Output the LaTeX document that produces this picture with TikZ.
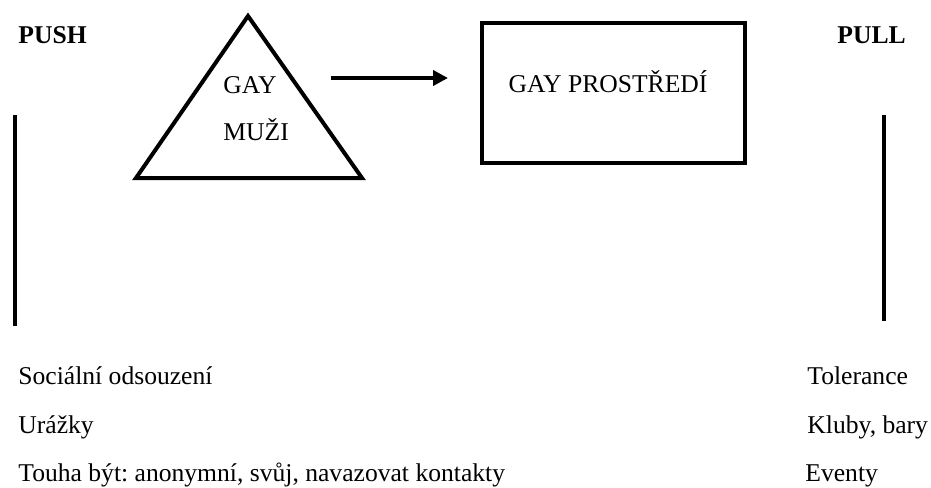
\documentclass[tikz,border=0pt]{standalone}
\usepackage{fontspec}
\setmainfont{Liberation Serif}
\usetikzlibrary{arrows.meta}
\frenchspacing
\tikzset{
  lbl/.style={inner sep=0pt, anchor=base west, font=\fontsize{12.8}{15}\selectfont},
  heading/.style={lbl, font=\fontsize{12.8}{15}\selectfont\bfseries},
  thickline/.style={line width=2pt},
  bar/.style={line width=1.7pt},
}
\begin{document}
\begin{tikzpicture}[x=0.5pt,y=-0.5pt]
\useasboundingbox (0,0) rectangle (931,487);

% headings
\node[heading] (push) at (18,43) {PUSH};
\node[heading] (pull) at (837,43) {PULL};

\draw[bar] (15,115) -- (15,326);
\draw[bar] (884,115) -- (884,321);

% triangle
\coordinate (apex) at (248,16);
\coordinate (baseleft) at (136,178);
\coordinate (baseright) at (362,178);
\draw[thickline] (apex) -- (baseright) -- (baseleft) -- cycle;
\node[lbl] (gay) at (223,93) {GAY};
\node[lbl] (muzi) at (223,140) {MUŽI};

\coordinate (arrowstart) at (331,78);
\coordinate (arrowend) at (448,78);
\draw[thickline,-{Triangle[length=7.5pt,width=7.5pt]}] (arrowstart) -- (arrowend);

% box
\draw[thickline] (482,23) rectangle (745,163);
\node[lbl, anchor=base] (prostredi) at (608,92) {GAY PROSTŘEDÍ};

% push factors
\node[lbl] (socialni) at (18,384) {Sociální odsouzení};
\node[lbl] (urazky) at (18,433) {Urážky};
\node[lbl] (touha) at (18,481) {Touha být: anonymní, svůj, navazovat kontakty};

% pull factors
\node[lbl] (tolerance) at (807,384) {Tolerance};
\node[lbl] (kluby) at (807,433) {Kluby, bary};
\node[lbl] (eventy) at (805,481) {Eventy};

\end{tikzpicture}
\end{document}
